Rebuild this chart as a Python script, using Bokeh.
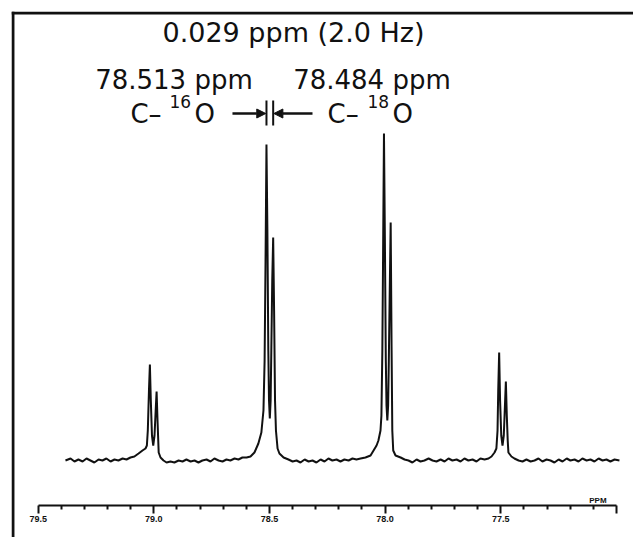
from bokeh.plotting import figure
from bokeh.models import Range1d, LinearAxis, FixedTicker, Span, Label, Arrow, NormalHead
from bokeh.embed import file_html
from bokeh.resources import INLINE

# ---- data (chemical shift in ppm, intensity in arbitrary units) ----
ppm = [79.382, 79.360, 79.343, 79.326, 79.308, 79.291, 79.274, 79.257, 79.239, 79.222,
       79.205, 79.187, 79.170, 79.153, 79.135, 79.118, 79.101, 79.084, 79.066, 79.049,
       79.036, 79.030, 79.026, 79.021, 79.017, 79.013, 79.008, 79.0025, 78.997, 78.992,
       78.988, 78.984, 78.979, 78.971, 78.958, 78.945, 78.928, 78.911, 78.893, 78.876,
       78.859, 78.841, 78.824, 78.807, 78.790, 78.772, 78.755, 78.738, 78.720, 78.703,
       78.686, 78.669, 78.651, 78.634, 78.617, 78.599, 78.582, 78.565, 78.548, 78.535,
       78.526, 78.521, 78.517, 78.513, 78.509, 78.505, 78.502, 78.4985, 78.495, 78.492,
       78.488, 78.484, 78.480, 78.476, 78.472, 78.465, 78.457, 78.439, 78.418, 78.400,
       78.383, 78.366, 78.348, 78.331, 78.314, 78.297, 78.279, 78.262, 78.245, 78.228,
       78.210, 78.193, 78.176, 78.158, 78.141, 78.124, 78.106, 78.085, 78.063, 78.050,
       78.037, 78.029, 78.020, 78.016, 78.012, 78.009, 78.005, 78.001, 77.997, 77.994,
       77.9905, 77.987, 77.984, 77.980, 77.976, 77.972, 77.969, 77.965, 77.955, 77.933,
       77.916, 77.899, 77.882, 77.864, 77.847, 77.830, 77.812, 77.795, 77.778, 77.760,
       77.743, 77.726, 77.709, 77.691, 77.674, 77.657, 77.640, 77.622, 77.605, 77.588,
       77.570, 77.553, 77.540, 77.527, 77.519, 77.514, 77.511, 77.507, 77.503, 77.498,
       77.4925, 77.487, 77.482, 77.478, 77.474, 77.470, 77.467, 77.454, 77.441, 77.423,
       77.406, 77.389, 77.371, 77.354, 77.337, 77.320, 77.302, 77.285, 77.268, 77.250,
       77.233, 77.215, 77.199, 77.181, 77.164, 77.147, 77.129, 77.112, 77.095, 77.077,
       77.060, 77.043, 77.026, 77.008, 76.987]
intensity = [0, 2, -1, 1, -1, 2, 0, -2, 1, 0,
             2, -1, 1, 0, 2, 1, 3, 4, 7, 10,
             12, 15, 30, 70, 96, 60, 25, 15, 25, 50,
             69, 40, 8, 3, 0, -2, -1, -2, 0, -1,
             1, -1, 0, -2, 0, 1, -1, 2, 0, -1,
             1, 0, 2, 1, 3, 3, 4, 8, 17, 28,
             50, 100, 200, 316, 230, 110, 60, 42, 60, 110,
             180, 223, 150, 60, 30, 12, 7, 3, 1, -1,
             0, -2, 1, -1, 0, -2, 1, -1, 2, 0,
             1, -1, 1, 0, 2, 1, 2, 3, 5, 10,
             15, 20, 30, 45, 110, 200, 327, 220, 100, 55,
             40, 55, 100, 170, 238, 110, 30, 10, 5, 3,
             1, 0, -2, 1, -1, 0, 2, 0, -1, 1,
             -1, 2, 0, 1, -1, 2, 0, 1, -1, 2,
             1, 2, 4, 8, 12, 30, 70, 108, 60, 25,
             15, 25, 55, 79, 45, 20, 8, 4, 2, 0,
             -1, 1, -1, 0, 2, -1, 1, 0, -2, 1,
             -1, 2, 0, 1, -1, 2, 0, 1, -1, 2,
             0, 1, -1, 1, 0]

tick_values = [79.5, 79.0, 78.5, 78.0, 77.5, 77.0]
tick_labels = ["79.5", "79.0", "78.5", "78.0", "77.5", ""]
minor_tick_values = [79.4, 79.3, 79.2, 79.1, 78.9, 78.8, 78.7, 78.6, 78.4, 78.3, 78.2, 78.1,
                     77.9, 77.8, 77.7, 77.6, 77.4, 77.3, 77.2, 77.1]
shift_ppm = [78.513, 78.484]
shift_text = "0.029 ppm (2.0 Hz)"
shift_labels = ["78.513 ppm", "78.484 ppm"]
isotope_labels = ["16", "18"]
unit_label = "PPM"

INK = "#111111"
BIG = "DejaVu Sans"

p = figure(width=633, height=537,
           x_range=Range1d(79.6153, 76.9262), y_range=Range1d(-77, 449),
           output_backend="svg", toolbar_location=None,
           x_axis_location=None, y_axis_location=None,
           min_border_left=11, min_border_top=11, min_border_right=0, min_border_bottom=0)
p.outline_line_color = None
p.background_fill_color = "white"
p.border_fill_color = "white"
for g in p.grid:
    g.visible = False

# frame lines (left and top)
p.add_layout(Span(location=79.609, dimension="height", line_color=INK, line_width=3))
p.add_layout(Span(location=447.5, dimension="width", line_color=INK, line_width=3))

# ppm axis drawn inside the plot
ax = LinearAxis(fixed_location=-45, bounds=(77.0, 79.5),
                ticker=FixedTicker(ticks=tick_values, minor_ticks=minor_tick_values),
                major_label_overrides=dict(zip(tick_values, tick_labels)),
                axis_line_color=INK, axis_line_width=2,
                major_tick_line_color=INK, major_tick_line_width=2,
                minor_tick_line_color=INK, minor_tick_line_width=2,
                major_tick_in=0, major_tick_out=8, minor_tick_in=0, minor_tick_out=4,
                major_label_text_font="Liberation Sans", major_label_text_font_style="bold",
                major_label_text_font_size="9px", major_label_text_color=INK,
                major_label_standoff=2)
p.add_layout(ax, "below")

p.add_layout(Label(x=77.080, y=-40, text=unit_label, text_align="center", text_baseline="alphabetic",
                   text_font="Liberation Sans", text_font_style="bold", text_font_size="8px",
                   text_color=INK))

# spectrum
p.line(ppm, intensity, line_color=INK, line_width=2)

# annotations
p.add_layout(Label(x=78.396, y=428, text=shift_text, text_align="center", text_baseline="alphabetic",
                   text_font=BIG, text_font_size="27px", text_color=INK))
p.add_layout(Label(x=78.913, y=381, text=shift_labels[0], text_align="center", text_baseline="alphabetic",
                   text_font=BIG, text_font_size="26px", text_color=INK))
p.add_layout(Label(x=78.057, y=381, text=shift_labels[1], text_align="center", text_baseline="alphabetic",
                   text_font=BIG, text_font_size="26px", text_color=INK))

for cx, sx, ox, iso in [(79.101, 78.932, 78.824, isotope_labels[0]),
                        (78.249, 78.076, 77.968, isotope_labels[1])]:
    p.add_layout(Label(x=cx, y=347, text="C\u2013", text_align="left", text_baseline="alphabetic",
                       text_font=BIG, text_font_size="26px", text_color=INK))
    p.add_layout(Label(x=sx, y=359, text=iso, text_align="left", text_baseline="alphabetic",
                       text_font=BIG, text_font_size="17px", text_color=INK))
    p.add_layout(Label(x=ox, y=347, text="O", text_align="left", text_baseline="alphabetic",
                       text_font=BIG, text_font_size="26px", text_color=INK))

# marker bars at the two shifts and arrows pointing at them
p.segment(x0=shift_ppm, y0=[335, 335], x1=shift_ppm, y1=[360, 360], line_color=INK, line_width=2)
p.add_layout(Arrow(end=NormalHead(size=9, fill_color=INK, line_color=INK),
                   x_start=78.660, y_start=347, x_end=shift_ppm[0] + 0.003, y_end=347,
                   line_color=INK, line_width=2.5))
p.add_layout(Arrow(end=NormalHead(size=9, fill_color=INK, line_color=INK),
                   x_start=78.314, y_start=347, x_end=shift_ppm[1] - 0.003, y_end=347,
                   line_color=INK, line_width=2.5))

open("out.html", "w").write(file_html(p, INLINE))
